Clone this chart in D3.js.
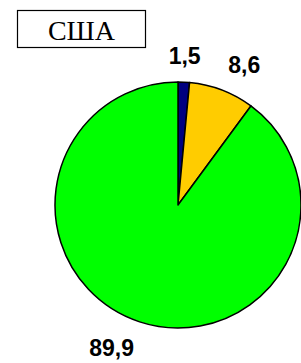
<!DOCTYPE html>
<html>
<head>
<meta charset="utf-8">
<script src="https://cdn.jsdelivr.net/npm/d3@7"></script>
<style>
  body { margin: 0; background: #fff; }
  svg { display: block; }
</style>
</head>
<body>
<svg></svg>
<script>
  var title = "США";
  var categories = ["a", "b", "c"];
  var values = [1.5, 8.6, 89.9];
  var labels = ["1,5", "8,6", "89,9"];
  var colors = ["#000080", "#FFCC00", "#00FF00"];

  var width = 301, height = 363;
  var cx = 178, cy = 205, radius = 123;
  var svg = d3.select("svg").attr("width", width).attr("height", height);

  // title box
  svg.append("rect").attr("x", 17.5).attr("y", 10.5).attr("width", 128).attr("height", 37)
    .attr("fill", "#fff").attr("stroke", "#000").attr("stroke-width", 1.2);
  svg.append("text").attr("x", 81.5).attr("y", 40).attr("text-anchor", "middle")
    .style("font-family", "'Liberation Serif', 'Times New Roman', serif").style("font-size", "28px")
    .text(title);

  var pie = d3.pie().sort(null).value(function(d) { return d; });
  var arcs = pie(values);
  var arc = d3.arc().innerRadius(0).outerRadius(radius);
  var g = svg.append("g").attr("transform", "translate(" + cx + "," + cy + ")");

  g.selectAll("path").data(arcs).enter().append("path")
    .attr("d", arc)
    .attr("fill", function(d, i) { return colors[i]; })
    .attr("stroke", "#000").attr("stroke-width", 1.5).attr("stroke-linejoin", "round");

  // labels outside the slices
  var labelR = radius + 18;
  g.selectAll("text.lbl").data(arcs).enter().append("text").attr("class", "lbl")
    .each(function(d, i) {
      var a = (d.startAngle + d.endAngle) / 2;
      var s = Math.sin(a), c = Math.cos(a);
      var px = labelR * s, py = -labelR * c;
      var anchor = s > 0.1 ? "start" : (s < -0.1 ? "end" : "middle");
      var t = d3.select(this).attr("x", px)
        .attr("y", c > 0 ? py : py + 17)
        .attr("text-anchor", anchor)
        .style("font-family", "'Liberation Sans', Arial, sans-serif")
        .style("font-weight", "bold").style("font-size", "23px")
        .text(labels[i]);
    });
</script>
</body>
</html>
